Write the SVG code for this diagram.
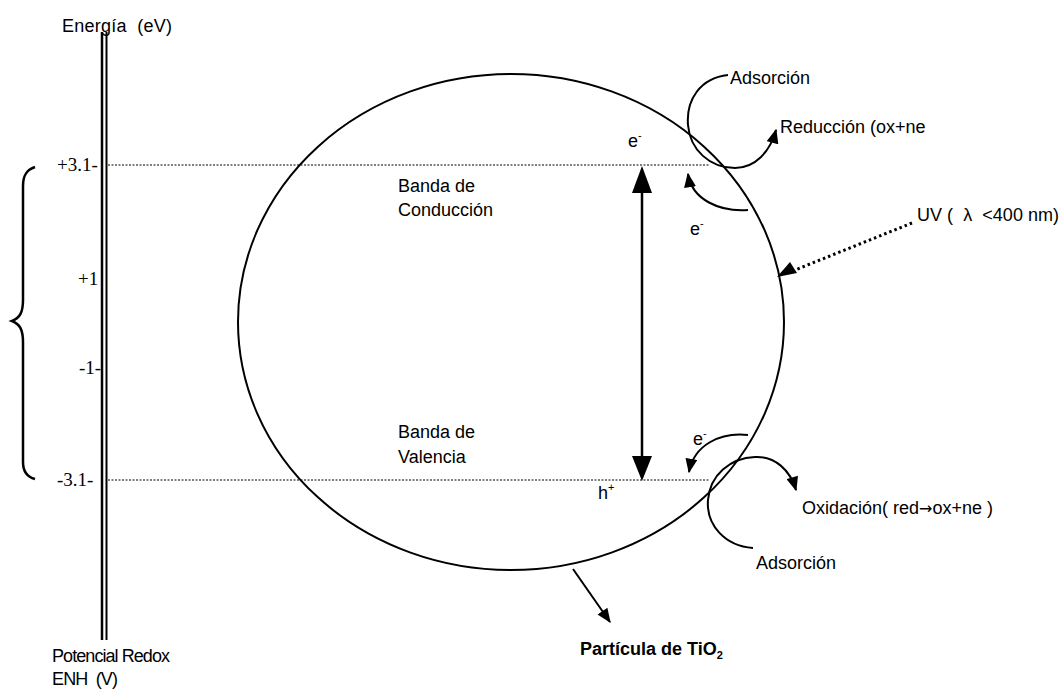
<svg xmlns="http://www.w3.org/2000/svg" width="1062" height="689" viewBox="0 0 1062 689">
<defs>
<style>
.t{font-family:"Liberation Sans",Arial,sans-serif;font-size:18px;fill:#000;white-space:pre}
.s{font-family:"Liberation Serif","Times New Roman",serif;font-size:19px;fill:#000}
.ln{fill:none;stroke:#000;stroke-width:2}
.dot{fill:none;stroke:#000;stroke-width:1;stroke-dasharray:2,1.5}
</style>
<marker id="ah" viewBox="0 0 12 10" refX="11" refY="5" markerUnits="userSpaceOnUse" markerWidth="15" markerHeight="12" orient="auto">
<path d="M0,0 L12,5 L0,10 z" fill="#000"/>
</marker>
</defs>
<rect width="1062" height="689" fill="#fff"/>

<g id="axis">
<line x1="102" y1="32" x2="102" y2="640" stroke="#000" stroke-width="2.5"/>
<line x1="106.5" y1="32" x2="106.5" y2="640" stroke="#000" stroke-width="2"/>
<text class="t" x="62" y="32" textLength="110">Energía  (eV)</text>
<text class="s" x="57" y="171">+3.1-</text>
<text class="s" x="78" y="285">+1</text>
<text class="s" x="79" y="374">-1-</text>
<text class="s" x="57" y="486">-3.1-</text>
<text class="t" x="52" y="662" font-size="16" textLength="118">Potencial Redox</text>
<text class="t" x="52" y="685" font-size="16" textLength="66">ENH  (V)</text>
</g>

<g id="brace">
<path d="M35,167 C26,170 23,176 23,186 L23,300 C23,312 20,318 12,321 C20,324 23,330 23,342 L23,462 C23,472 27,477 35,479" fill="none" stroke="#000" stroke-width="2.5"/>
</g>

<g id="levels">
<line class="dot" x1="108" y1="165" x2="710" y2="165"/>
<line class="dot" x1="108" y1="480" x2="710" y2="480"/>
</g>

<g id="particle">
<ellipse cx="511" cy="322" rx="273" ry="248" fill="none" stroke="#000" stroke-width="2"/>
<text class="t" x="398" y="192">Banda de</text>
<text class="t" x="398" y="216">Conducción</text>
<text class="t" x="398" y="438">Banda de</text>
<text class="t" x="398" y="463">Valencia</text>
<text class="t" x="628" y="147">e<tspan font-size="11" dy="-8">-</tspan></text>
<text class="t" x="690" y="235">e<tspan font-size="11" dy="-8">-</tspan></text>
<text class="t" x="693" y="445">e<tspan font-size="11" dy="-8">-</tspan></text>
<text class="t" x="598" y="499">h<tspan font-size="11" dy="-8">+</tspan></text>
</g>

<g id="labels">
<text class="t" x="730" y="84">Adsorción</text>
<text class="t" x="780" y="133">Reducción (ox+ne</text>
<text class="t" x="917" y="221" textLength="142">UV (  λ  &lt;400 nm)</text>
<text class="t" x="802" y="514">Oxidación( red<tspan font-family="DejaVu Sans" font-size="16">→</tspan>ox+ne )</text>
<text class="t" x="756" y="569">Adsorción</text>
<text class="t" x="580" y="655" font-size="17" font-weight="bold">Partícula de TiO<tspan font-size="11" dy="4">2</tspan></text>
</g>

<g id="connectors">
<line x1="642" y1="190" x2="642" y2="458" stroke="#000" stroke-width="2.5"/>
<polygon points="642,166 632,193 652,193" fill="#000"/>
<polygon points="642,481 632,456 652,456" fill="#000"/>
<path class="ln" d="M728,75 C700,78 686,100 688,125 C690,150 710,168 735,168 C755,168 770,152 776,130" marker-end="url(#ah)"/>
<path class="ln" d="M753,548 C725,546 706,525 708,500 C710,475 730,458 755,457 C775,456 790,470 796,490" marker-end="url(#ah)"/>
<path class="ln" d="M748,210 C720,212 692,200 688,174" marker-end="url(#ah)"/>
<path class="ln" d="M748,435 C720,432 694,445 689,472" marker-end="url(#ah)"/>
<line x1="912" y1="223" x2="795" y2="270" stroke="#000" stroke-width="3" stroke-dasharray="2.5,3"/>
<polygon points="777,277 790,262 797,273" fill="#000"/>
<line x1="573" y1="569" x2="610" y2="622" stroke="#000" stroke-width="2" marker-end="url(#ah)"/>
</g>
</svg>
